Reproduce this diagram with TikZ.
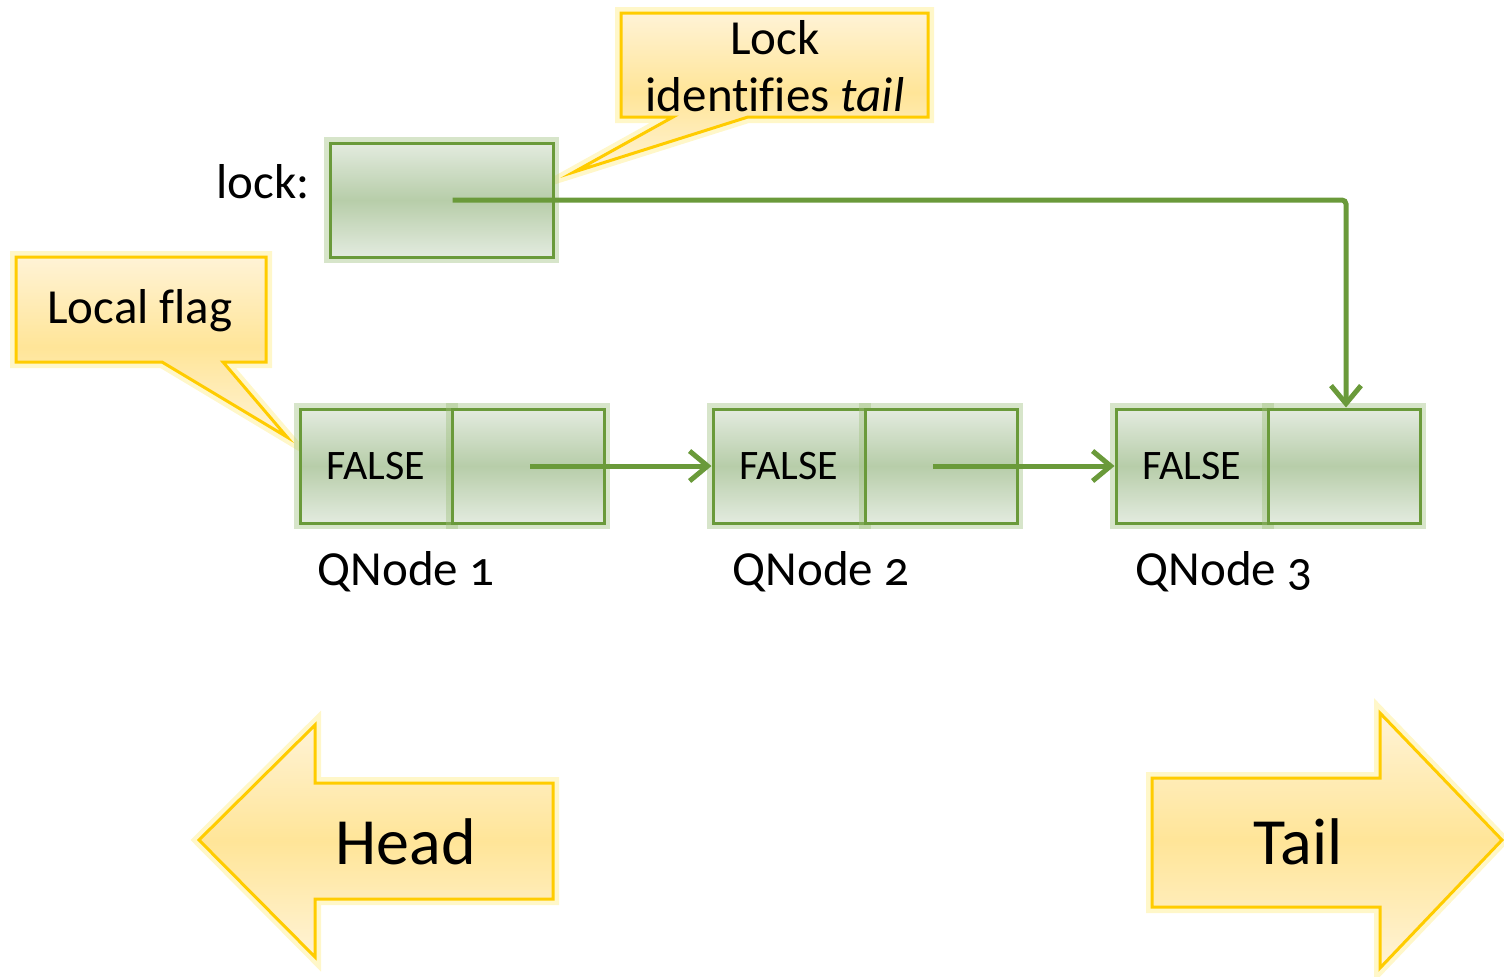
\documentclass[tikz,border=0pt]{standalone}
\usepackage{fontspec}
\setmainfont{Carlito}[Numbers=OldStyle, Ligatures=NoCommon]
\usetikzlibrary{arrows.meta}
\definecolor{gborder}{HTML}{6A9A3A}
\definecolor{gtop}{HTML}{E3EBDF}
\definecolor{gmid}{HTML}{B7CDA9}
\definecolor{glowg}{HTML}{9CBF7A}
\definecolor{yborder}{HTML}{FFCC00}
\definecolor{ytop}{HTML}{FFF3D6}
\definecolor{ymid}{HTML}{FFE598}
\definecolor{glowy}{HTML}{FFE34D}
\begin{document}
\begin{tikzpicture}[x=0.5pt,y=-0.5pt,
  cell/.style={draw=gborder, line width=1.5pt, top color=gtop, bottom color=gtop, middle color=gmid,
    minimum width=76pt, minimum height=57pt, inner sep=0pt, font=\fontsize{21}{24}\selectfont,
    preaction={draw=glowg, line width=6pt, opacity=0.4}},
  ybox/.style={draw=yborder, line width=1.5pt, line join=miter, top color=ytop, bottom color=ytop, middle color=ymid,
    preaction={draw=glowy, line width=6pt, opacity=0.3}},
  link/.style={draw=gborder, line width=2.5pt, -{Straight Barb[length=9pt,width=15pt]}},
  big/.style={font=\fontsize{24.5}{30}\selectfont, inner sep=0pt},
  huge/.style={font=\fontsize{33}{38}\selectfont, inner sep=0pt}
]
\useasboundingbox (0,0) rectangle (1504,976);

% callouts and block arrows
\path[ybox] (621,13) -- (928,13) -- (928,117) -- (748,117) -- (574,172) -- (673,117) -- (621,117) -- cycle;
\path[ybox] (16,257) -- (266,257) -- (266,362) -- (223,362) -- (287,437) -- (162,362) -- (16,362) -- cycle;
\path[ybox] (199,840) -- (315,725) -- (315,783) -- (553,783) -- (553,899) -- (315,899) -- (315,957) -- cycle;
\path[ybox] (1152,778) -- (1380,778) -- (1380,713) -- (1502,840) -- (1380,968) -- (1380,907) -- (1152,907) -- cycle;

\node[big] (t1) at (775,38) {Lock};
\node[big] (t2) at (775,95) {identifies \textit{tail}};
\node[big] (t3) at (140,311) {Local flag};
\node[huge] (thead) at (406,842) {Head};
\node[huge] (ttail) at (1298,842) {Tail};

% lock box
\node[cell, minimum width=111.5pt] (lock) at (441.5,200) {};
\node[big, anchor=east] (locklbl) at (310,182) {lock:};

% qnodes
\node[cell] (q1l) at (376,466) {FALSE};
\node[cell] (q1r) at (528,466) {};
\node[cell] (q2l) at (789,466) {FALSE};
\node[cell] (q2r) at (941,466) {};
\node[cell] (q3l) at (1192,466) {FALSE};
\node[cell] (q3r) at (1344,466) {};

\node[big] (n1) at (406,572) {QNode 1};
\node[big] (n2) at (821,572) {QNode 2};
\node[big] (n3) at (1224,572) {QNode 3};

\draw[link] ([xshift=1pt]q1r.center) -- (q2l.west);
\draw[link] ([xshift=-4pt]q2r.center) -- (q3l.west);
\draw[link, rounded corners=2pt] ([xshift=5.5pt]lock.center) -| ([xshift=1pt]q3r.north);
\end{tikzpicture}
\end{document}
